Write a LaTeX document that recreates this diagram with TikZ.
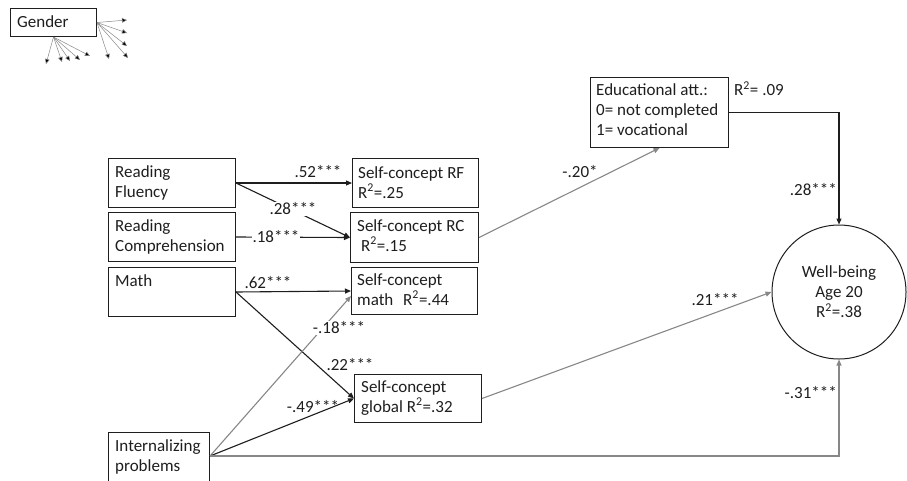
\documentclass[tikz,border=0pt]{standalone}
\usepackage{fontspec}
\setmainfont{Carlito}
\usetikzlibrary{arrows.meta,calc}
\definecolor{lgray}{RGB}{135,135,135}
\definecolor{ink}{RGB}{30,30,30}
\begin{document}
\begin{tikzpicture}[x=1pt,y=-1pt,
  every node/.style={font=\fontsize{17}{20}\selectfont, text=ink},
  box/.style={draw=ink, line width=1pt, inner sep=0pt, anchor=north west},
  txt/.style={inner sep=0pt, anchor=north west, align=left},
  lab/.style={inner sep=1pt},
  blk/.style={draw=ink, line width=1.1pt, -{Triangle[length=6pt,width=5pt]}},
  gry/.style={draw=lgray, line width=1.1pt, -{Triangle[length=6pt,width=5pt]}},
  gen/.style={draw=lgray, line width=0.5pt, -{Triangle[length=5pt,width=4.5pt,fill=black]}}
]
\useasboundingbox (0,0) rectangle (907,480);

% boxes
\node[box, minimum width=86pt, minimum height=28pt] (gender) at (10,8) {};
\node[txt] (gendert) at ($(gender.north west)+(7,5)$) {\strut Gender};

\node[box, minimum width=127pt, minimum height=49pt] (rf) at (108,158) {};
\node[txt] (rft) at ($(rf.north west)+(7,5)$) {\strut Reading\\Fluency};

\node[box, minimum width=127pt, minimum height=49pt] (rc) at (108,212) {};
\node[txt] (rct) at ($(rc.north west)+(7,5)$) {\strut Reading\\Comprehension};

\node[box, minimum width=127pt, minimum height=49pt] (math) at (108,267) {};
\node[txt] (matht) at ($(math.north west)+(7,5)$) {\strut Math};

\node[box, minimum width=101pt, minimum height=56pt] (int) at (108,432) {};
\node[txt] (intt) at ($(int.north west)+(7,5)$) {\strut Internalizing\\problems};

\node[box, minimum width=126pt, minimum height=49pt] (scrf) at (352,158) {};
\node[txt] (scrft) at ($(scrf.north west)+(6,6)$) {\strut Self-concept RF\\R\textsuperscript{2}=.25};

\node[box, minimum width=128pt, minimum height=50pt] (scrc) at (350,212) {};
\node[txt] (scrct) at ($(scrc.north west)+(7,5)$) {\strut Self-concept RC\\\hspace{4pt}R\textsuperscript{2}=.15};

\node[box, minimum width=126pt, minimum height=47pt] (scm) at (351,267) {};
\node[txt] (scmt) at ($(scm.north west)+(6,4)$) {\strut Self-concept\\math\hspace{6pt} R\textsuperscript{2}=.44};

\node[box, minimum width=127pt, minimum height=48pt] (scg) at (354,374) {};
\node[txt] (scgt) at ($(scg.north west)+(7,4)$) {\strut Self-concept\\global R\textsuperscript{2}=.32};

\node[box, minimum width=138pt, minimum height=70pt] (edu) at (590,77) {};
\node[txt] (edut) at ($(edu.north west)+(6,4)$) {\strut Educational att.:\\0= not completed\\1= vocational};

\node[draw=ink, line width=1pt, circle, minimum size=134pt, inner sep=0pt, align=center] (wb) at (839,292) {Well-being\\Age 20\\R\textsuperscript{2}=.38};

\node[lab] (r09) at (759,89) {R\textsuperscript{2}= .09};

% connectors
\coordinate (intout) at ($(int.north east)+(0,24)$);
\coordinate (scmin) at ($(scm.south west)+(0,-19)$);

\draw[blk] (rf.east) -- (scrf.west);
\draw[blk] (rf.east) -- (scrc.west);
\draw[blk] (rc.east) -- (scrc.west);
\draw[blk] (math.east) -- (scm.west);
\draw[blk] (math.east) -- (scg.west);
\draw[gry] (intout) -- (scmin);
\draw[blk] (intout) -- (scg.west);
\draw[gry] (intout) -| (wb.south);
\draw[gry] (scrc.east) -- (edu.south);
\draw[blk] (edu.east) -| (wb.north);
\draw[gry] (scg.east) -- (wb.west);

% gender arrows
\foreach \i/\p in {1/{127,20},2/{127,33},3/{127,46},4/{128,58},5/{109,59}}{
  \coordinate (gr\i) at (\p);
  \draw[gen] (gender.east) -- (gr\i);
}
\foreach \i/\p in {1/{46,64},2/{62,62},3/{70,61},4/{80,60},5/{90,56}}{
  \coordinate (gb\i) at (\p);
  \draw[gen] (gender.south) -- (gb\i);
}

% path labels
\node[lab] (l52) at (318,172) {.52***};
\node[lab, fill=white] (l28) at (293,209) {.28***};
\node[lab, fill=white] (l18) at (276,237) {.18***};
\node[lab] (l62) at (268,283) {.62***};
\node[lab, fill=white, inner sep=0.5pt] (lm18) at (339,328) {-.18***};
\node[lab] (l22) at (350,365) {.22***};
\node[lab] (lm49) at (313,407) {-.49***};
\node[lab] (lm20) at (580,172) {-.20*};
\node[lab, anchor=east] (l28b) at (838,190) {.28***};
\node[lab] (l21) at (715,300) {.21***};
\node[lab, anchor=east] (lm31) at (838,393) {-.31***};
\end{tikzpicture}
\end{document}
